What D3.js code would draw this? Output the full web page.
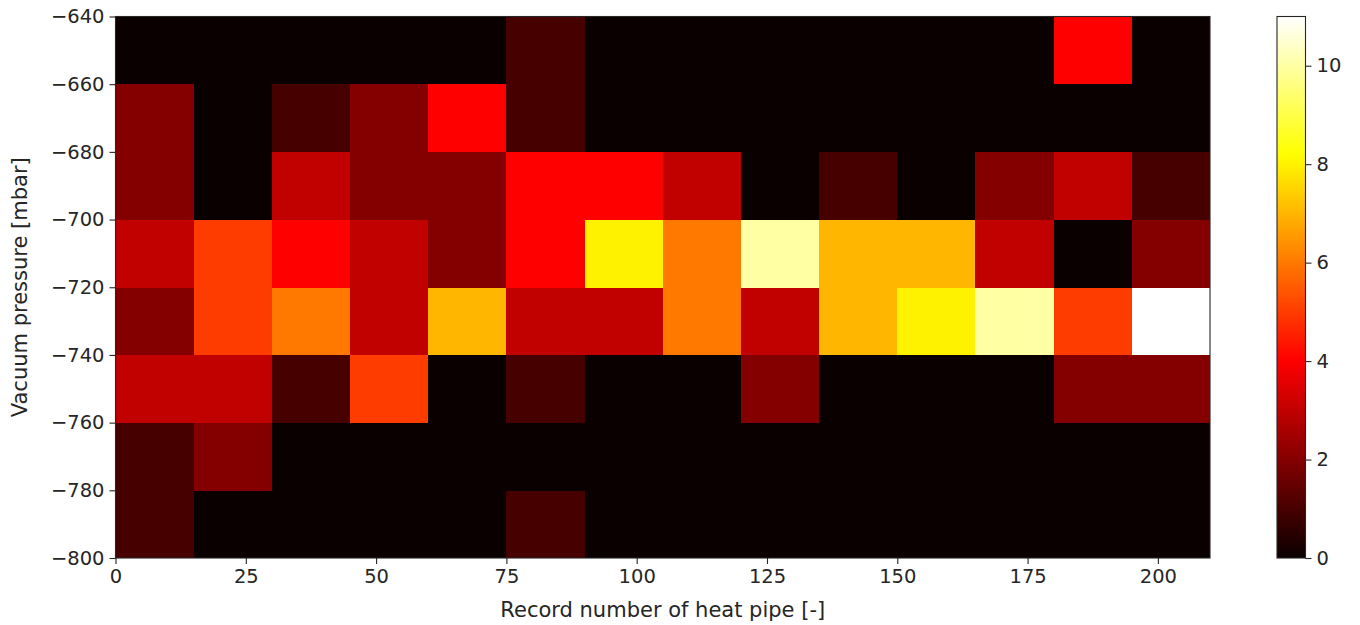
<!DOCTYPE html>
<html>
<head>
<meta charset="utf-8">
<script src="https://cdn.jsdelivr.net/npm/d3@7"></script>
<style>
  html, body { margin: 0; padding: 0; background: #fff; }
  svg text { font-family: "DejaVu Sans", sans-serif; fill: #262626; }
</style>
</head>
<body>
<svg id="chart" width="1360" height="625"></svg>
<script>
// ---- data ----
const xEdges = [0, 15, 30, 45, 60, 75, 90, 105, 120, 135, 150, 165, 180, 195, 210];
const yEdges = [-800, -780, -760, -740, -720, -700, -680, -660, -640];
// counts per y-bin (bottom to top), one value per x-bin
const row_800_780 = [1, 0, 0, 0, 0, 1, 0, 0, 0, 0, 0, 0, 0, 0];
const row_780_760 = [1, 2, 0, 0, 0, 0, 0, 0, 0, 0, 0, 0, 0, 0];
const row_760_740 = [3, 3, 1, 5, 0, 1, 0, 0, 2, 0, 0, 0, 2, 2];
const row_740_720 = [2, 5, 6, 3, 7, 3, 3, 6, 3, 7, 8, 10, 5, 11];
const row_720_700 = [3, 5, 4, 3, 2, 4, 8, 6, 10, 7, 7, 3, 0, 2];
const row_700_680 = [2, 0, 3, 2, 2, 4, 4, 3, 0, 1, 0, 2, 3, 1];
const row_680_660 = [2, 0, 1, 2, 4, 1, 0, 0, 0, 0, 0, 0, 0, 0];
const row_660_640 = [0, 0, 0, 0, 0, 1, 0, 0, 0, 0, 0, 0, 4, 0];
const counts = [row_800_780, row_780_760, row_760_740, row_740_720,
                row_720_700, row_700_680, row_680_660, row_660_640];
const xTicks = [0, 25, 50, 75, 100, 125, 150, 175, 200];
const yTicks = [-800, -780, -760, -740, -720, -700, -680, -660, -640];
const cTicks = [0, 2, 4, 6, 8, 10];
const xLabel = "Record number of heat pipe [-]";
const yLabel = "Vacuum pressure [mbar]";

// ---- layout ----
const plot = { left: 115.5, right: 1210, top: 16.5, bottom: 558 };
const cbar = { left: 1277, right: 1305.5 };
const svg = d3.select("#chart");

const x = d3.scaleLinear().domain([0, 210]).range([plot.left, plot.right]);
const y = d3.scaleLinear().domain([-800, -640]).range([plot.bottom, plot.top]);
const vmax = d3.max(counts.flat());
const cScale = d3.scaleLinear().domain([0, vmax]).range([plot.bottom, plot.top]);

// matplotlib "hot" colormap
function hot(t) {
  t = Math.max(0, Math.min(1, t));
  const r = t < 0.365079 ? 0.0416 + (1 - 0.0416) * t / 0.365079 : 1;
  const g = t < 0.365079 ? 0 : (t < 0.746032 ? (t - 0.365079) / (0.746032 - 0.365079) : 1);
  const b = t < 0.746032 ? 0 : (t - 0.746032) / (1 - 0.746032);
  return d3.rgb(Math.round(r * 255), Math.round(g * 255), Math.round(b * 255)).toString();
}
const color = v => hot(v / vmax);

// ---- cells ----
const cells = [];
counts.forEach((row, j) => row.forEach((v, i) => cells.push({
  x0: xEdges[i], x1: xEdges[i + 1], y0: yEdges[j], y1: yEdges[j + 1], v
})));
svg.append("g").selectAll("rect").data(cells).join("rect")
  .attr("x", d => x(d.x0))
  .attr("y", d => y(d.y1))
  .attr("width", d => x(d.x1) - x(d.x0) + 0.3)
  .attr("height", d => y(d.y0) - y(d.y1) + 0.3)
  .attr("fill", d => color(d.v))
  .attr("shape-rendering", "crispEdges");

// ---- axes ----
const fs = "19.5px";
const lfs = "21px";
const xAxis = svg.append("g").attr("transform", `translate(0,${plot.bottom})`)
  .call(d3.axisBottom(x).tickValues(xTicks).tickSize(6).tickPadding(5).tickFormat(d3.format("d")));
const yAxis = svg.append("g").attr("transform", `translate(${plot.left},0)`)
  .call(d3.axisLeft(y).tickValues(yTicks).tickSize(6).tickPadding(5)
    .tickFormat(d => d3.format("d")(d).replace("-", "\u2212")));
[xAxis, yAxis].forEach(a => {
  a.select(".domain").remove();
  a.selectAll("line").attr("stroke", "#262626").attr("stroke-width", 1.1);
  a.selectAll("text").style("font-size", fs).attr("fill", "#262626");
});

// frame
svg.append("rect").attr("x", plot.left).attr("y", plot.top)
  .attr("width", plot.right - plot.left).attr("height", plot.bottom - plot.top)
  .attr("fill", "none").attr("stroke", "#262626").attr("stroke-width", 1.1);

// axis labels
svg.append("text").attr("x", (plot.left + plot.right) / 2).attr("y", 617)
  .attr("text-anchor", "middle").style("font-size", lfs).text(xLabel);
svg.append("text")
  .attr("transform", `translate(27,${(plot.top + plot.bottom) / 2}) rotate(-90)`)
  .attr("text-anchor", "middle").style("font-size", lfs).text(yLabel);

// ---- colorbar ----
const defs = svg.append("defs");
const grad = defs.append("linearGradient").attr("id", "cgrad")
  .attr("x1", 0).attr("y1", 1).attr("x2", 0).attr("y2", 0);
d3.range(0, 1.0001, 0.01).forEach(t => {
  grad.append("stop").attr("offset", t).attr("stop-color", hot(t));
});
svg.append("rect").attr("x", cbar.left).attr("y", plot.top)
  .attr("width", cbar.right - cbar.left).attr("height", plot.bottom - plot.top)
  .attr("fill", "url(#cgrad)")
  .attr("stroke", "#262626").attr("stroke-width", 1.1);
const cAxis = svg.append("g").attr("transform", `translate(${cbar.right},0)`)
  .call(d3.axisRight(cScale).tickValues(cTicks).tickSize(6).tickPadding(5).tickFormat(d3.format("d")));
cAxis.select(".domain").remove();
cAxis.selectAll("line").attr("stroke", "#262626").attr("stroke-width", 1.1);
cAxis.selectAll("text").style("font-size", fs).attr("fill", "#262626");
</script>
</body>
</html>
